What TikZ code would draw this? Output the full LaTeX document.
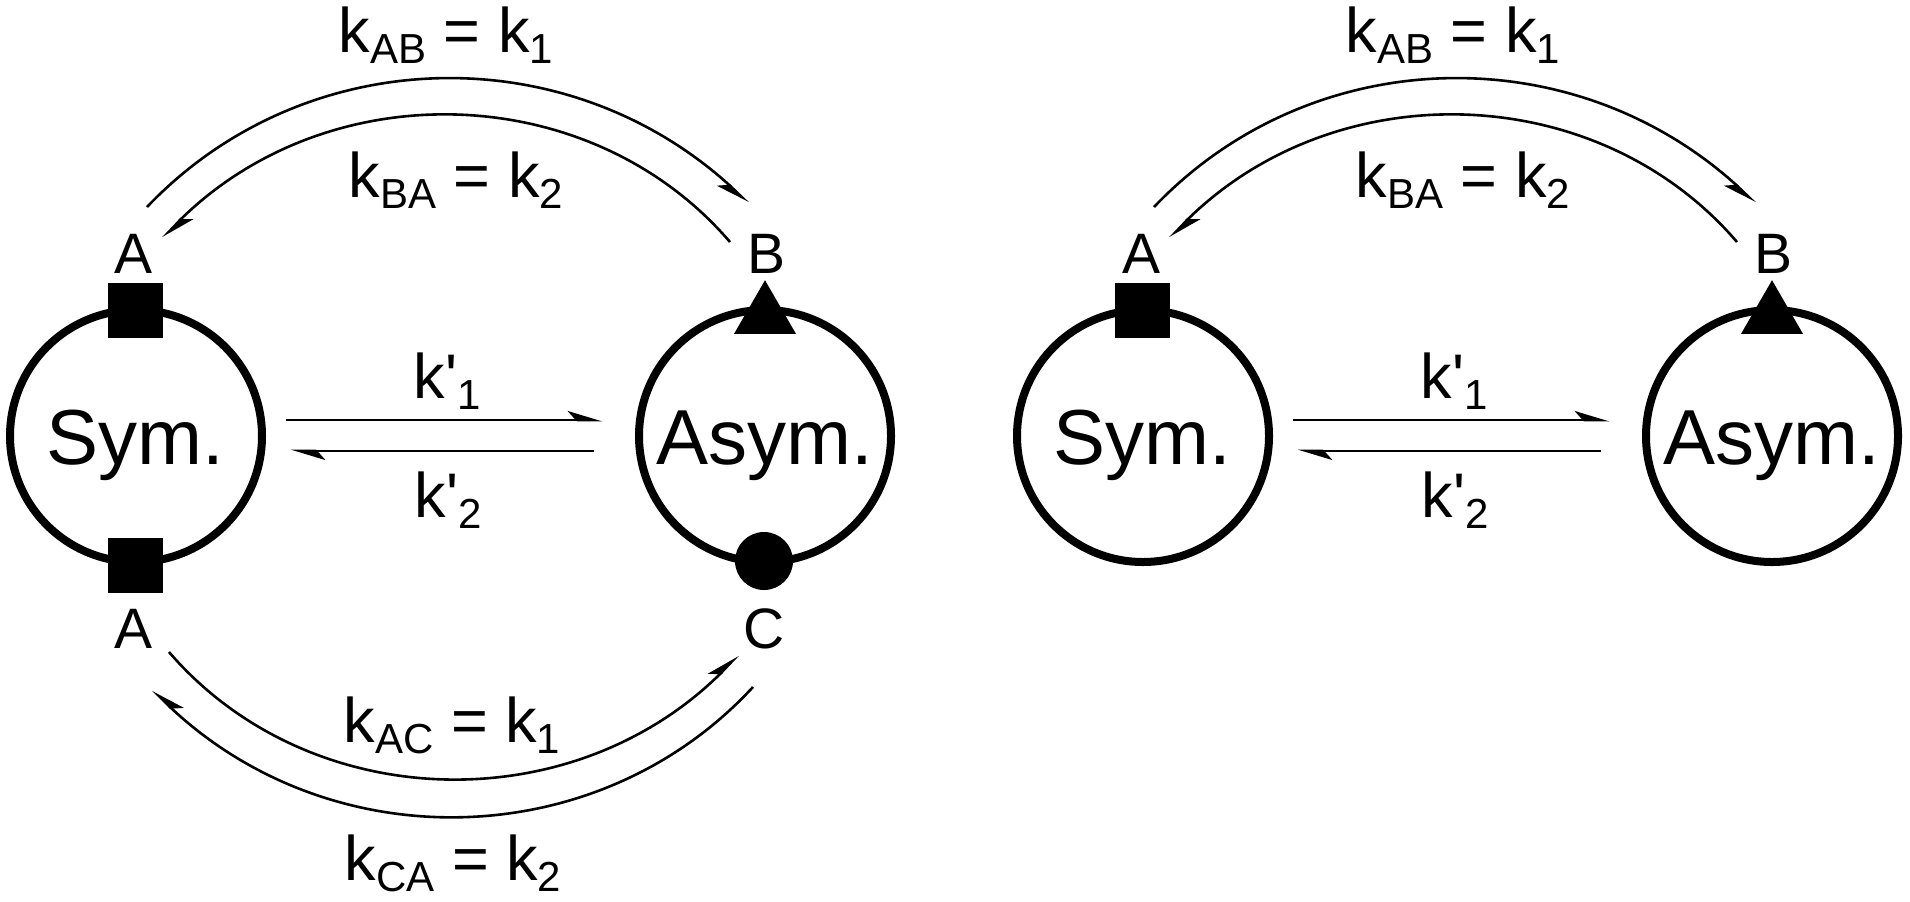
\documentclass[tikz,border=0pt]{standalone}
\usepackage{fontspec}
\setmainfont{Liberation Sans}
\usepackage{tikz}
\usetikzlibrary{arrows.meta,bending,shapes.geometric}

\newcommand{\lo}[1]{\raisebox{-5.5pt}{\fontsize{21}{24}\selectfont #1}}
\newcommand{\kp}{k\textquotesingle}

\begin{document}
\begin{tikzpicture}[x=0.5pt,y=-0.5pt,
    rate/.style={font=\fontsize{31.5}{36}\selectfont, anchor=base, inner sep=0pt},
    site/.style={font=\fontsize{28.5}{32}\selectfont, anchor=base, inner sep=0pt},
    state/.style={circle, draw, line width=4pt, minimum size=126pt, inner sep=0pt, font=\fontsize{39}{44}\selectfont},
    tipl/.style={-{Stealth[harpoon, length=15pt, width=9pt, inset=4pt]}},
    tipr/.style={-{Stealth[harpoon, swap, length=15pt, width=9pt, inset=4pt]}}]
\useasboundingbox (0,0) rectangle (1910,901);

\begin{scope}[every node/.style={state}]
    \node (sym1) at (136, 436) {};
    \node (asym1) at (765, 436) {};
    \node (sym2) at (1143, 436) {};
    \node (asym2) at (1772, 436) {};
\end{scope}

\begin{scope}[every node/.style={fill, inner sep=0pt}]
    \node[rectangle, minimum size=27.5pt] (sqa1) at (135, 310) {};
    \node[rectangle, minimum size=27.5pt] (sqb1) at (135, 565) {};
    \node[regular polygon, regular polygon sides=3, minimum size=35.8pt] (tri1) at (765, 316) {};
    \node[circle, minimum size=29pt] (dot1) at (764, 561) {};

    \node[rectangle, minimum size=27.5pt] (sqa2) at (1142, 310) {};
    \node[regular polygon, regular polygon sides=3, minimum size=35.8pt] (tri2) at (1772, 316) {};
\end{scope}

\begin{scope}[every node/.style={font=\fontsize{39}{44}\selectfont, anchor=base, inner sep=0pt}]
    \node (tsym1) at (135, 464) {Sym.};
    \node (tasym1) at (765, 464) {Asym.};
    \node (tsym2) at (1142, 464) {Sym.};
    \node (tasym2) at (1772, 464) {Asym.};
\end{scope}

\begin{scope}[every node/.style={site}]
    \node (la1) at (134, 273) {A};
    \node (lb1) at (766, 273) {B};
    \node (lc1) at (134, 648) {A};
    \node (ld1) at (764, 648) {C};
    \node (la2) at (1141, 273) {A};
    \node (lb2) at (1773, 273) {B};
\end{scope}

\begin{scope}[every node/.style={rate}]
    \node (kab1) at (446, 52) {k\lo{AB} = k\lo{1}};
    \node (kba1) at (456, 197) {k\lo{BA} = k\lo{2}};
    \node (kf1) at (447, 398) {\kp\lo{1}};
    \node (kr1) at (448, 517) {\kp\lo{2}};
    \node (kac1) at (452, 742) {k\lo{AC} = k\lo{1}};
    \node (kca1) at (453, 880) {k\lo{CA} = k\lo{2}};

    \node (kab2) at (1453, 52) {k\lo{AB} = k\lo{1}};
    \node (kba2) at (1463, 197) {k\lo{BA} = k\lo{2}};
    \node (kf2) at (1454, 398) {\kp\lo{1}};
    \node (kr2) at (1455, 517) {\kp\lo{2}};
\end{scope}

\coordinate (ab1s) at (147, 207);
\coordinate (ab1e) at (748, 203);
\coordinate (ba1s) at (730, 242);
\coordinate (ba1e) at (163, 238);
\coordinate (ac1s) at (169, 652);
\coordinate (ac1e) at (738, 655);
\coordinate (ca1s) at (753, 687);
\coordinate (ca1e) at (153, 690);
\coordinate (ab2s) at (1154, 207);
\coordinate (ab2e) at (1755, 203);
\coordinate (ba2s) at (1737, 242);
\coordinate (ba2e) at (1170, 238);

\begin{scope}[line width=1.3pt]
    \draw[tipl] ([shift={(20,-16)}]sym1.east) -- ([shift={(-33,-16)}]asym1.west);
    \draw[tipl] ([shift={(-41,15)}]asym1.west) -- ([shift={(25,15)}]sym1.east);
    \path[tipr] (ab1s) edge[bend left=46] (ab1e);
    \path[tipl] (ba1s) edge[bend right=49] (ba1e);
    \path[tipl] (ac1s) edge[bend right=49] (ac1e);
    \path[tipr] (ca1s) edge[bend left=47] (ca1e);

    \draw[tipl] ([shift={(20,-16)}]sym2.east) -- ([shift={(-33,-16)}]asym2.west);
    \draw[tipl] ([shift={(-41,15)}]asym2.west) -- ([shift={(25,15)}]sym2.east);
    \path[tipr] (ab2s) edge[bend left=46] (ab2e);
    \path[tipl] (ba2s) edge[bend right=49] (ba2e);
\end{scope}

\end{tikzpicture}
\end{document}
